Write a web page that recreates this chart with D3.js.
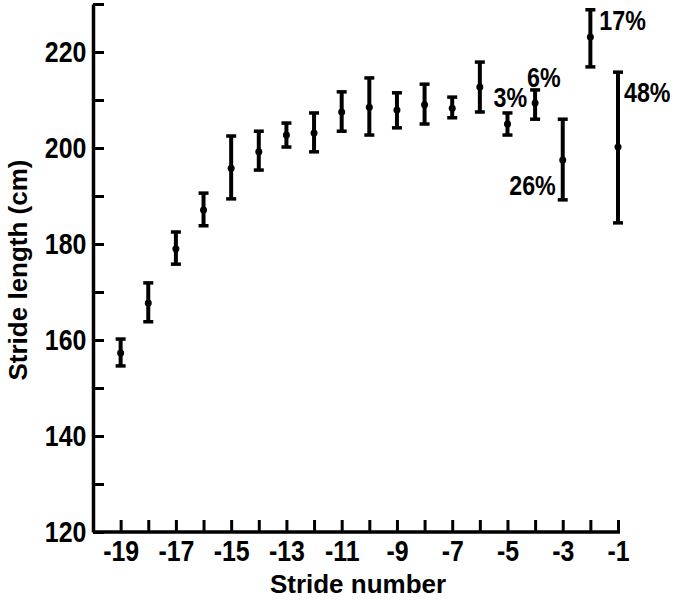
<!DOCTYPE html>
<html>
<head>
<meta charset="utf-8">
<script src="https://cdn.jsdelivr.net/npm/d3@7"></script>
<style>
  body { margin: 0; background: #fff; }
  svg text { font-family: "Liberation Sans", Arial, sans-serif; font-weight: bold; fill: #000; }
</style>
</head>
<body>
<div id="chart"></div>
<script>
// stride number, mean stride length and error bar ends (cm)
const strides = [-19, -18, -17, -16, -15, -14, -13, -12, -11, -10, -9, -8, -7, -6, -5, -4, -3, -2, -1];
const means   = [157.3, 167.7, 179.0, 187.1, 195.8, 199.2, 202.7, 203.1, 207.5, 208.5, 207.9, 209.0, 208.3, 212.7, 205.0, 209.4, 197.5, 223.1, 200.2];
const lows    = [154.6, 163.8, 175.8, 183.8, 189.4, 195.4, 200.2, 199.2, 203.5, 202.7, 204.2, 205.0, 206.3, 207.5, 202.7, 206.0, 189.2, 216.9, 184.4];
const highs   = [160.2, 171.9, 182.5, 190.6, 202.5, 203.5, 205.2, 207.3, 211.7, 214.6, 211.5, 213.3, 210.6, 217.9, 207.3, 212.1, 206.0, 228.8, 215.8];

// percentage notes next to the last strides
const noteText    = ['17%', '6%', '3%', '26%', '48%'];
const noteStrides = [-2, -4, -5, -3, -1];
const noteValues  = [226.7, 214.8, 210.6, 192.3, 211.7];

const yTicks = [120, 130, 140, 150, 160, 170, 180, 190, 200, 210, 220, 230];
const yLabels = [120, 140, 160, 180, 200, 220];
const xLabels = [-19, -17, -15, -13, -11, -9, -7, -5, -3, -1];

const width = 684, height = 602;
const squeeze = 0.83; // condensed look of the printed digits

const svg = d3.select('#chart').append('svg')
  .attr('width', width)
  .attr('height', height);

const x = d3.scaleLinear().domain([-20, -1]).range([93, 618]);
const y = d3.scaleLinear().domain([120, 230]).range([532, 4]);

// Y axis, ticks point inward
const yAxis = svg.append('g')
  .attr('transform', `translate(${x(-20)},0)`)
  .call(d3.axisLeft(y)
    .tickValues(yTicks)
    .tickSizeInner(-11)
    .tickSizeOuter(0)
    .tickPadding(8)
    .tickFormat(d => yLabels.includes(d) ? String(d) : ''));

// X axis
const xAxis = svg.append('g')
  .attr('transform', `translate(0,${y(120)})`)
  .call(d3.axisBottom(x)
    .tickValues(strides)
    .tickSizeInner(-12)
    .tickSizeOuter(0)
    .tickPadding(8)
    .tickFormat(d => xLabels.includes(d) ? String(d) : ''));

xAxis.select('.domain').attr('d', `M${x(-20)},0H${x(-1) + 2}`);

[xAxis, yAxis].forEach(g => {
  g.select('.domain').attr('stroke', '#000').attr('stroke-width', 3.5);
  g.selectAll('.tick line').attr('stroke', '#000').attr('stroke-width', 3);
  g.selectAll('.tick text')
    .style('font-size', '30px')
    .attr('transform', `scale(${squeeze},1)`);
});

// Error bars
const bars = svg.append('g');
strides.forEach((s, i) => {
  const cx = x(s);
  bars.append('line')
    .attr('x1', cx).attr('x2', cx)
    .attr('y1', y(lows[i])).attr('y2', y(highs[i]))
    .attr('stroke', '#000').attr('stroke-width', 4);
  [lows[i], highs[i]].forEach(v => {
    bars.append('line')
      .attr('x1', cx - 5).attr('x2', cx + 5)
      .attr('y1', y(v)).attr('y2', y(v))
      .attr('stroke', '#000').attr('stroke-width', 3.5);
  });
  bars.append('circle')
    .attr('cx', cx).attr('cy', y(means[i]))
    .attr('r', 3.5)
    .attr('fill', '#000');
});

// Percentage notes
const noteAnchor = ['start', 'start', 'start', 'end', 'start'];
const noteDx = [9, -8, -14, -7, 6];
noteText.forEach((t, i) => {
  svg.append('text')
    .attr('transform', `translate(${x(noteStrides[i]) + noteDx[i]},${y(noteValues[i])}) scale(${squeeze},1)`)
    .attr('dy', '0.36em')
    .attr('text-anchor', noteAnchor[i])
    .style('font-size', '28px')
    .text(t);
});

// Axis titles
svg.append('text')
  .attr('x', 358)
  .attr('y', 593)
  .attr('text-anchor', 'middle')
  .style('font-size', '26px')
  .text('Stride number');

svg.append('text')
  .attr('transform', 'translate(27,270) rotate(-90)')
  .attr('text-anchor', 'middle')
  .style('font-size', '26px')
  .text('Stride length (cm)');
</script>
</body>
</html>
